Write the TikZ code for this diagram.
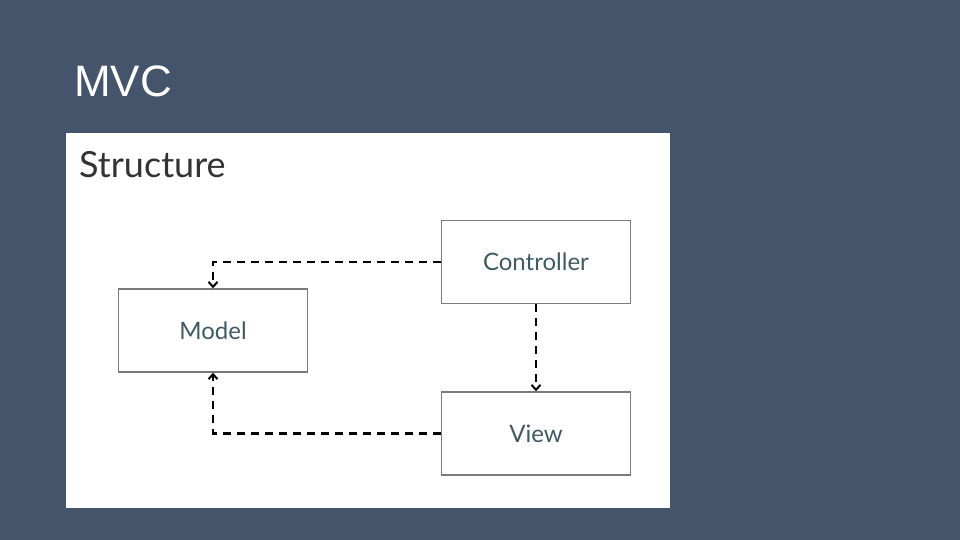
\documentclass[tikz,border=0pt]{standalone}
\usepackage{fontspec}
\setmainfont{Liberation Sans}
\newfontfamily\gill{Lato}
\usetikzlibrary{arrows.meta}
\definecolor{slidebg}{HTML}{44546A}
\definecolor{boxtext}{HTML}{3F5A64}
\definecolor{boxline}{HTML}{7A7A7A}
\tikzset{
  mvcbox/.style={draw=boxline, line width=1.4pt, fill=white, minimum width=189pt, minimum height=83pt, inner sep=0pt, font=\gill\fontsize{24}{27}\selectfont, text=boxtext},
  dashlink/.style={line width=2.6pt, dash pattern=on 8pt off 6pt, -{Straight Barb[length=5pt,width=9pt,line width=2pt]}},
}
\begin{document}
\begin{tikzpicture}[x=1pt,y=-1pt]
\useasboundingbox (0,0) rectangle (960,540);
\fill[slidebg] (0,0) rectangle (960,540);
\node[anchor=base west, inner sep=0pt, text=white, font=\fontsize{44}{50}\selectfont] (title) at (74,97) {MVC};
\fill[white] (66,133) rectangle (670,508);
\node[anchor=base west, inner sep=0pt, text=black!80, font=\gill\fontsize{36}{40}\selectfont] (struct) at (79,178) {Structure};
\node[mvcbox] (model) at (213,330.5) {Model};
\node[mvcbox] (ctrl) at (536,262) {Controller};
\node[mvcbox] (view) at (536,433.5) {View};
\draw[dashlink] (ctrl.west) -| (model.north);
\draw[dashlink] (ctrl.south) -- (view.north);
\draw[dashlink] (view.west) -| (model.south);
\end{tikzpicture}
\end{document}
